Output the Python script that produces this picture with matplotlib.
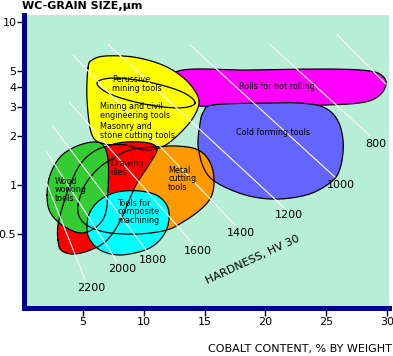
import numpy as np
import matplotlib.pyplot as plt

# --- data: cobalt content (%) vs WC grain size (um) ---
magenta_x = [12.6, 18.7, 25.3, 28.6, 29.7, 29.9, 29.4, 28.2, 25.3, 18.7, 13.8, 12.6]
magenta_y = [4.91, 5.05, 5.12, 4.98, 4.58, 4.09, 3.55, 3.22, 3.09, 3.04, 3.04, 3.09]

blue_x = [15.7, 19.6, 22.9, 24.9, 26.0, 26.4, 26.1, 25.3, 23.4, 20.6, 17.9, 15.4, 14.5, 14.6, 14.9]
blue_y = [3.09, 3.17, 3.17, 2.96, 2.43, 1.76, 1.24, 1.03, 0.87, 0.82, 0.89, 1.12, 1.64, 2.33, 2.80]

yellow_x = [5.41, 5.74, 6.81, 9.11, 11.33, 12.97, 14.04, 14.54, 14.04, 12.81, 11.5, 10.10, 8.45, 6.81, 5.74, 5.33]
yellow_y = [5.19, 5.81, 6.15, 6.07, 5.50, 4.71, 3.92, 3.22, 2.57, 2.02, 1.71, 1.64, 1.76, 1.78, 2.02, 3.31]

orange_x = [4.59, 5.16, 6.15, 7.22, 8.87, 10.92, 12.81, 14.46, 15.44, 15.77, 15.53, 14.62, 13.22, 11.91, 9.69, 7.22, 5.58, 4.75]
orange_y = [0.755, 1.0, 1.24, 1.42, 1.64, 1.71, 1.73, 1.64, 1.38, 1.07, 0.845, 0.703, 0.594, 0.531, 0.502, 0.509, 0.553, 0.628]

red_x = [2.94, 2.94, 3.36, 3.93, 4.75, 5.82, 6.97, 8.45, 10.35, 11.09, 10.51, 9.44, 8.70, 7.88, 6.81, 5.41, 4.10, 3.19]
red_y = [0.461, 0.569, 0.755, 1.0, 1.33, 1.59, 1.73, 1.83, 1.81, 1.66, 1.36, 1.03, 0.776, 0.569, 0.448, 0.395, 0.378, 0.40]

green_x = [2.04, 2.29, 3.11, 4.34, 5.74, 6.64, 7.06, 7.06, 6.81, 5.99, 4.75, 3.27, 2.29]
green_y = [0.868, 1.15, 1.48, 1.71, 1.83, 1.76, 1.42, 0.932, 0.655, 0.546, 0.509, 0.569, 0.684]

cyan_x = [5.58, 6.40, 7.80, 9.69, 11.17, 11.99, 11.99, 11.33, 10.10, 8.04, 6.40, 5.49, 5.33]
cyan_y = [0.684, 0.810, 0.906, 0.919, 0.856, 0.723, 0.569, 0.461, 0.400, 0.373, 0.400, 0.474, 0.569]

# percussive mining tools (outline only, inside the yellow zone)
perc_x = [14.21, 12.89, 10.02, 7.22, 6.15, 7.47, 10.35, 13.14]
perc_y = [3.17, 2.96, 3.13, 3.60, 4.21, 4.51, 4.27, 3.71]

# hardness HV30 iso-lines: start / end points
hv_labels = ['', '800', '1000', '1200', '1400', '1600', '1800', '2000', '2200']
hv_x0 = [25.9, 20.4, 13.8, 7.1, 4.2, 3.9, 2.5, 2.0, 2.0]
hv_y0 = [8.3, 7.2, 7.2, 7.2, 6.2, 3.2, 2.3, 1.6, 1.03]
hv_x1 = [29.9, 28.6, 25.7, 21.5, 17.5, 14.0, 10.3, 7.8, 5.2]
hv_y1 = [4.15, 2.0, 1.12, 0.73, 0.57, 0.44, 0.39, 0.34, 0.26]

y_ticks = [0.5, 1, 2, 3, 4, 5, 10]
y_ticklabels = ['0.5', '1', '2', '3', '4', '5', '10']
x_ticks = [5, 10, 15, 20, 25, 30]


def smooth(xs, ys, n=24):
    # closed Catmull-Rom outline in (x, log y) space
    p = np.column_stack([xs, np.log10(ys)])
    m = len(p)
    t = np.linspace(0, 1, n, endpoint=False)[:, None]
    segs = []
    for i in range(m):
        p0, p1, p2, p3 = p[i - 1], p[i], p[(i + 1) % m], p[(i + 2) % m]
        segs.append(0.5 * (2 * p1 + (-p0 + p2) * t + (2 * p0 - 5 * p1 + 4 * p2 - p3) * t ** 2
                           + (-p0 + 3 * p1 - 3 * p2 + p3) * t ** 3))
    out = np.vstack(segs + [segs[0][:1]])
    return out[:, 0], 10 ** out[:, 1]


fig = plt.figure(figsize=(3.93, 3.56), dpi=100)
ax = fig.add_axes([0.0611, 0.1362, 0.9288, 0.8216])
ax.set_facecolor('#b8eed6')
ax.set_yscale('log')
ax.set_xlim(0.15, 30.16)
ax.set_ylim(0.178, 10.96)

# magenta band sits behind everything, outline included
sx, sy = smooth(magenta_x, magenta_y)
ax.fill(sx, sy, color='#ff00ff', lw=0, zorder=1)
ax.plot(sx, sy, color='black', lw=0.9, zorder=1.05)

regions = [
    (blue_x, blue_y, '#6464ff'),
    (yellow_x, yellow_y, '#ffff00'),
    (orange_x, orange_y, '#ff9900'),
    (red_x, red_y, '#ff0000'),
    (green_x, green_y, '#33cc33'),
    (cyan_x, cyan_y, '#00ffff'),
]
for xs, ys, col in regions:
    sx, sy = smooth(xs, ys)
    ax.fill(sx, sy, color=col, lw=0, zorder=1.1)
for xs, ys, col in regions + [(perc_x, perc_y, None)]:
    sx, sy = smooth(xs, ys)
    ax.plot(sx, sy, color='black', lw=0.9, zorder=2)

# hardness lines
for lab, x0, y0, x1, y1 in zip(hv_labels, hv_x0, hv_y0, hv_x1, hv_y1):
    ax.plot([x0, x1], [y0, y1], color='white', lw=0.8, zorder=3)
    if lab:
        ax.annotate(lab, (x1, y1), xytext=(4, -2), textcoords='offset points',
                    ha='center', va='top', fontsize=8, zorder=4)

ax.text(18.98, 0.348, 'HARDNESS, HV 30', rotation=25, ha='center', va='center',
        rotation_mode='anchor', fontsize=8)

# region labels
fs = 5.8
ax.text(7.39, 4.15, 'Perussive\nmining tools', fontsize=fs, va='center', linespacing=0.95, zorder=4)
ax.text(6.40, 2.84, 'Mining and civil\nengineering tools', fontsize=fs, va='center', linespacing=0.95, zorder=4)
ax.text(6.40, 2.14, 'Masonry and\nstone cutting tools', fontsize=fs, va='center', linespacing=0.95, zorder=4)
ax.text(20.95, 3.98, 'Rolls for hot rolling', fontsize=fs, ha='center', va='center', zorder=4)
ax.text(20.63, 2.08, 'Cold forming tools', fontsize=fs, ha='center', va='center', zorder=4)
ax.text(7.22, 1.27, 'Drawing\ndies', fontsize=fs, va='center', linespacing=0.95, zorder=4)
ax.text(11.99, 1.09, 'Metal\ncutting\ntools', fontsize=fs, va='center', linespacing=0.95, zorder=4)
ax.text(2.70, 0.932, 'Wood\nworking\ntools', fontsize=fs, va='center', linespacing=0.95, zorder=4)
ax.text(7.80, 0.684, 'Tools for\ncomposite\nmachining', fontsize=fs, va='center', linespacing=0.95, zorder=4)

# axes styling
for s in ['top', 'right']:
    ax.spines[s].set_visible(False)
for s in ['left', 'bottom']:
    ax.spines[s].set_color('#000090')
    ax.spines[s].set_linewidth(3.6)
ax.set_yticks(y_ticks)
ax.set_yticklabels(y_ticklabels)
ax.yaxis.set_minor_locator(plt.NullLocator())
ax.set_xticks(x_ticks)
ax.tick_params(axis='y', direction='out', length=5, width=1, pad=0.5, labelsize=8)
ax.tick_params(axis='x', direction='out', length=6, width=1, pad=1, labelsize=8)

fig.text(22 / 393, 1 - 1 / 356, 'WC-GRAIN SIZE,\u03bcm', fontsize=8, fontweight='bold',
         ha='left', va='top')
fig.text(392 / 393, 1 - 349 / 356, 'COBALT CONTENT, % BY WEIGHT', fontsize=8,
         ha='right', va='center')

fig.savefig('out.png', dpi=100)
